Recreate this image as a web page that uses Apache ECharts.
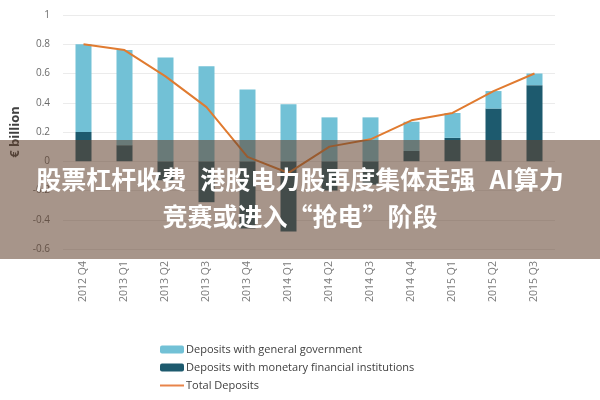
<!DOCTYPE html>
<html>
<head>
<meta charset="utf-8">
<script src="https://cdn.jsdelivr.net/npm/echarts@6/dist/echarts.min.js"></script>
<style>
  html, body { margin: 0; padding: 0; background: #fff; }
  #main { width: 600px; height: 400px; }
</style>
</head>
<body>
<div id="main"></div>
<script>
// 季度
var quarters = ['2012 Q4', '2013 Q1', '2013 Q2', '2013 Q3', '2013 Q4', '2014 Q1',
                '2014 Q2', '2014 Q3', '2014 Q4', '2015 Q1', '2015 Q2', '2015 Q3'];
// Deposits with general government
var govDeposits = [0.60, 0.65, 0.71, 0.65, 0.49, 0.39, 0.30, 0.30, 0.20, 0.17, 0.12, 0.08];
// Deposits with monetary financial institutions
var mfiDeposits = [0.20, 0.11, -0.13, -0.28, -0.46, -0.48, -0.20, -0.16, 0.07, 0.16, 0.36, 0.52];
// Total Deposits
var totalDeposits = [0.80, 0.76, 0.58, 0.37, 0.03, -0.08, 0.10, 0.15, 0.28, 0.33, 0.48, 0.60];

// 标题横幅（空格用稍宽的空白）
var bannerLines = ['股票杠杆收费\u2002\u200a港股电力股再度集体走强\u2002\u200aAI算力', '竞赛或进入“抢电”阶段'];

var myChart = echarts.init(document.getElementById('main'));

// 图例里的细线（上下留空，避免被拉伸成方块）
var lineIcon = 'path://M0,0 L0,0 M0,3 L24,3 L24,5 L0,5 Z M24,8 L24,8';

var option = {
  animation: false,
  textStyle: { fontFamily: 'Open Sans, sans-serif' },
  grid: { left: 63, right: 45, top: 15, bottom: 151 },
  legend: {
    orient: 'vertical',
    left: 155,
    top: 339,
    itemWidth: 24,
    itemHeight: 8,
    itemGap: 7,
    textStyle: { fontSize: 11, color: '#404040', padding: [0, 0, 0, -3] },
    data: [
      'Deposits with general government',
      'Deposits with monetary financial institutions',
      { name: 'Total Deposits', icon: lineIcon }
    ]
  },
  xAxis: {
    type: 'category',
    data: quarters,
    axisLine: { show: false },
    axisTick: { show: false },
    axisLabel: { rotate: 90, fontSize: 10.5, color: '#7a7a7a', margin: 12 }
  },
  yAxis: {
    type: 'value',
    min: -0.6,
    max: 1,
    interval: 0.2,
    name: '€ billion',
    nameLocation: 'middle',
    nameGap: 38,
    nameTextStyle: { fontSize: 13, fontWeight: 'bold', color: '#404040' },
    axisLine: { show: false },
    axisTick: { show: false },
    axisLabel: { fontSize: 10, color: '#6a6a6a', margin: 13 },
    splitLine: { lineStyle: { color: '#ebebeb', width: 1 } }
  },
  series: [
    {
      name: 'Deposits with monetary financial institutions',
      type: 'bar',
      stack: 'dep',
      barWidth: 16,
      itemStyle: { color: '#1d5a6e' },
      data: mfiDeposits
    },
    {
      name: 'Deposits with general government',
      type: 'bar',
      stack: 'dep',
      barWidth: 16,
      itemStyle: { color: '#72c1d6' },
      data: govDeposits
    },
    {
      name: 'Total Deposits',
      type: 'line',
      symbol: 'none',
      lineStyle: { color: '#e07b30', width: 2 },
      itemStyle: { color: '#e8844a' },
      data: totalDeposits,
      z: 5
    }
  ],
  graphic: [
    {
      type: 'rect',
      left: 0,
      top: 140,
      shape: { width: 600, height: 119 },
      style: { fill: 'rgba(98,66,46,0.56)' },
      z: 100
    },
    {
      type: 'text',
      left: 'center',
      top: 167,
      style: {
        text: bannerLines[0],
        fill: '#fff',
        font: 'bold 25px "Noto Sans CJK SC", sans-serif'
      },
      z: 101
    },
    {
      type: 'text',
      left: 'center',
      top: 204,
      style: {
        text: bannerLines[1],
        fill: '#fff',
        font: 'bold 25px "Noto Sans CJK SC", sans-serif'
      },
      z: 101
    }
  ]
};

myChart.setOption(option);
</script>
</body>
</html>
